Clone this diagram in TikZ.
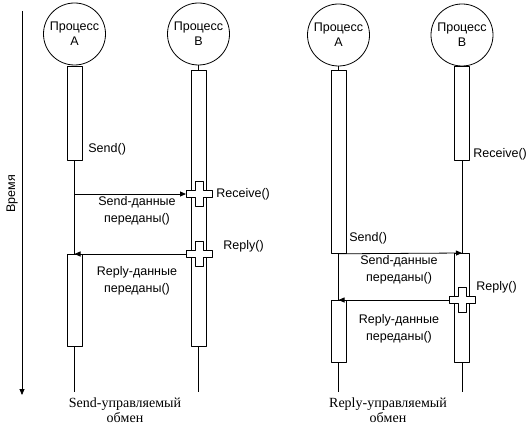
\documentclass[tikz,border=0pt]{standalone}
\usepackage{fontspec}
\setmainfont{Liberation Serif}
\setsansfont{Liberation Sans}
\usetikzlibrary{arrows.meta}

\begin{document}
\begin{tikzpicture}[x=1pt,y=-1pt,line join=round,>={Triangle[length=6pt,width=5pt]},line width=0.8pt]
                \tikzset{proc style/.style={draw,circle,minimum size=62pt,inner sep=0pt,align=center,font=\sffamily\fontsize{12.5}{15}\selectfont},
                    act style/.style={draw,fill=white,rectangle,minimum width=15pt,inner sep=0pt,anchor=north},
                    label style/.style={font=\sffamily\fontsize{12.5}{17.5}\selectfont,inner sep=0pt,align=center},
                    cap style/.style={font=\rmfamily\fontsize{14}{15}\selectfont,inner sep=0pt,align=center},
                    plus/.pic={\draw[fill=white] (-13,-3.5) -- (-4,-3.5) -- (-4,-12.5) -- (4,-12.5) -- (4,-3.5) -- (13,-3.5) -- (13,3.5) -- (4,3.5) -- (4,12.5) -- (-4,12.5) -- (-4,3.5) -- (-13,3.5) -- cycle;
                        \coordinate (-w) at (-13,0);}}
                \useasboundingbox (0,0) rectangle (532,425);
                % time axis
                \coordinate (t0) at (22,11);
                \coordinate (t1) at (22,395);
                \draw[->] (t0) -- (t1);
                \node[label style,rotate=90] (time) at (12,194) {Время};
                % Send-driven exchange
                \node[proc style] (lA) at (74.5,34) {Процесс\\А};
                \node[proc style] (lB) at (198.5,34) {Процесс\\В};
                \node[act style,minimum height=94pt] (lA1) at (74.5,66) {};
                \node[act style,minimum height=92pt] (lA2) at (74.5,254) {};
                \node[act style,minimum height=276pt] (lB1) at (198.5,70) {};
                \coordinate (lAend) at (74.5,392);
                \coordinate (lBend) at (198.5,392);
                \draw (lA1.south) -- (lA2.north) (lA2.south) -- (lAend);
                \draw (lB.south) -- (lB1.north) (lB1.south) -- (lBend);
                \pic (lx1) at (199,194) {plus};
                \pic (lx2) at (199,254) {plus};
                \draw[->] (lA1.south |- lx1-w) -- (lx1-w);
                \draw[->] (lx2-w) -- (lA2.north);
                \node[label style,anchor=west] (lsend) at (88,149) {Send()};
                \node[label style,anchor=west] (lrecv) at (216,194) {Receive()};
                \node[label style,anchor=west] (lreply) at (223,246) {Reply()};
                \node[label style] (lsdata) at (137,211) {Send-данные\\переданы()};
                \node[label style] (lrdata) at (137,281) {Reply-данные\\переданы()};
                \node[cap style] (lcap) at (125,410) {Send-управляемый\\обмен};
                % Reply-driven exchange
                \node[proc style] (rA) at (338.5,35) {Процесс\\А};
                \node[proc style] (rB) at (462,35) {Процесс\\В};
                \node[act style,minimum height=183pt] (rA1) at (338.5,70) {};
                \node[act style,minimum height=62pt] (rA2) at (338.5,300) {};
                \node[act style,minimum height=94pt] (rB1) at (462,66) {};
                \node[act style,minimum height=109pt] (rB2) at (462,253) {};
                \coordinate (rAend) at (338.5,392);
                \coordinate (rBend) at (462,392);
                \draw (rA.south) -- (rA1.north) (rA1.south) -- (rA2.north) (rA2.south) -- (rAend);
                \draw (rB1.south) -- (rB2.north) (rB2.south) -- (rBend);
                \draw[->] (rA1.south) -- (rB2.north);
                \pic (rx1) at (462,300) {plus};
                \draw[->] (rx1-w) -- (rA2.north);
                \node[label style,anchor=west] (rrecv) at (473,154) {Receive()};
                \node[label style,anchor=west] (rsend) at (349,238) {Send()};
                \node[label style,anchor=west] (rreply) at (476,287) {Reply()};
                \node[label style] (rsdata) at (399,270) {Send-данные\\переданы()};
                \node[label style] (rrdata) at (399,329) {Reply-данные\\переданы()};
                \node[cap style] (rcap) at (388,410) {Reply-управляемый\\обмен};
            \end{tikzpicture}
\end{document}
